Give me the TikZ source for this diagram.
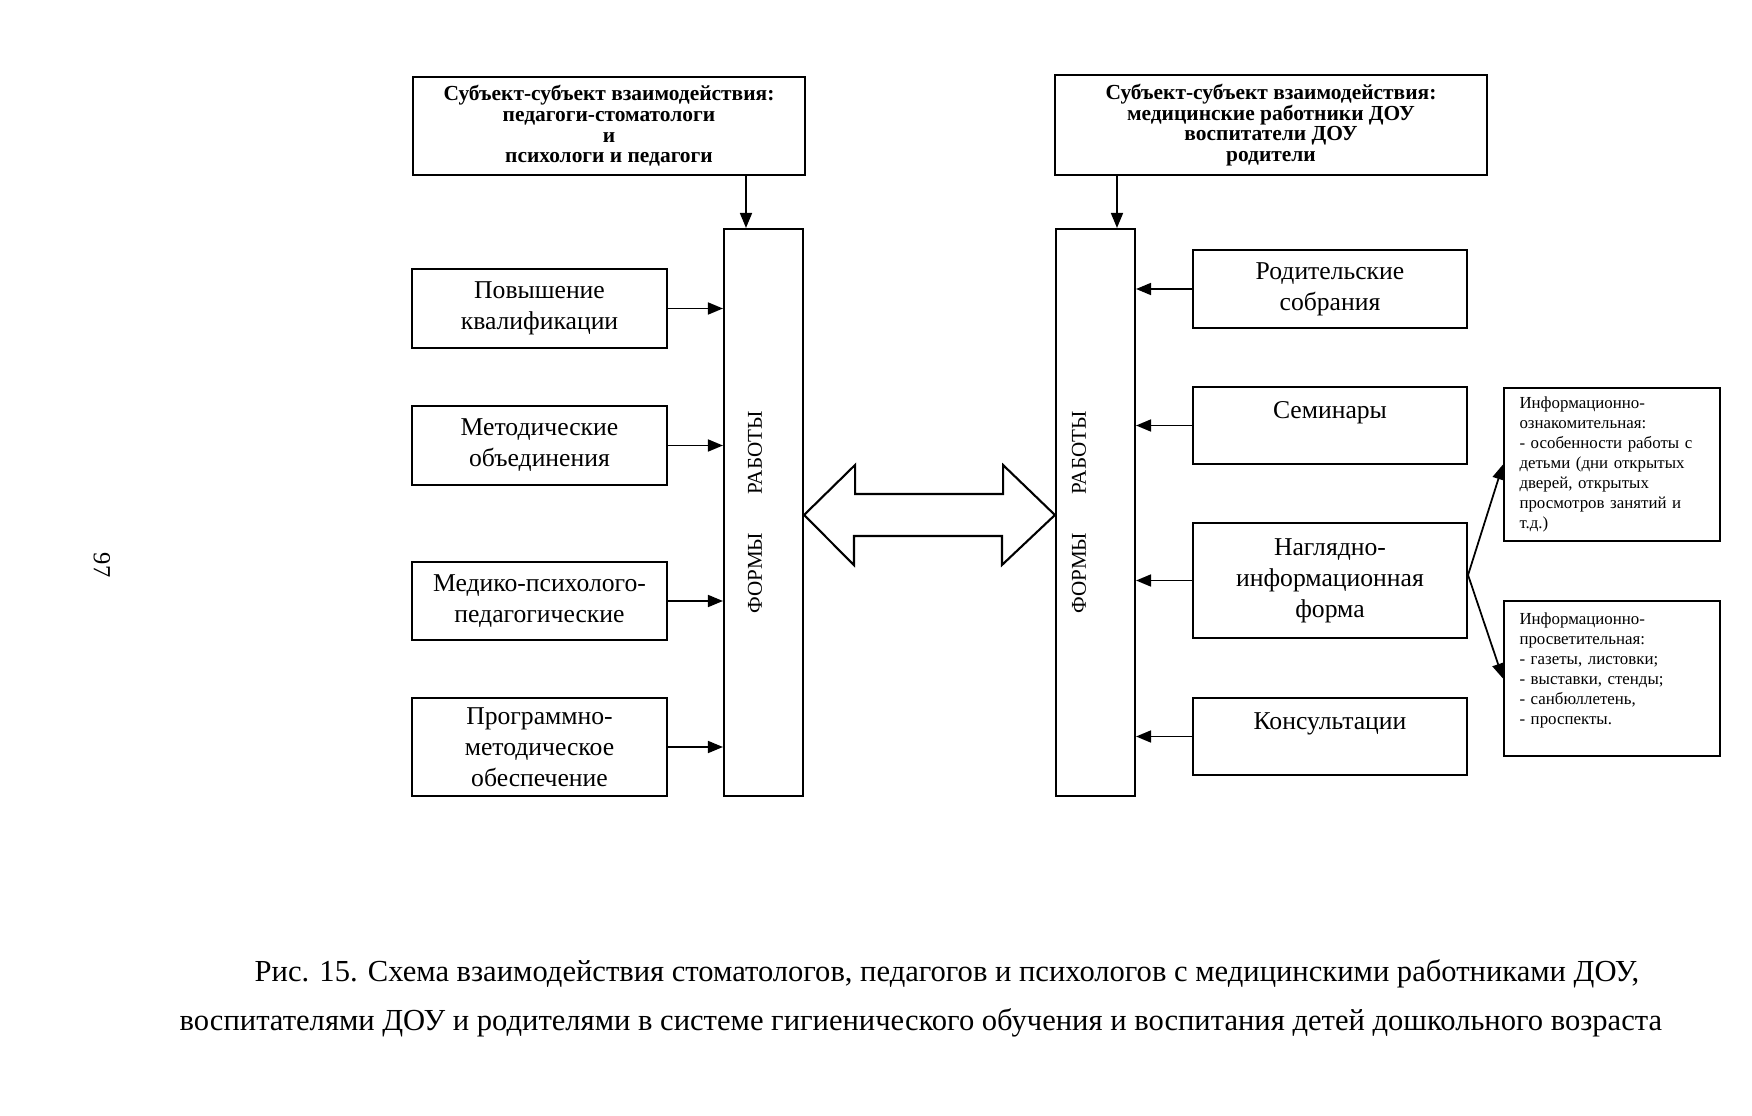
\documentclass[tikz,border=0pt]{standalone}
\usepackage{fontspec}
\setmainfont{Liberation Serif}
\usetikzlibrary{
    arrows.meta,
    calc,
    positioning
}
\newcommand{\boxfont}{\fontsize{7.3}{8.8}\selectfont}
\newcommand{\subjfont}{\fontsize{6.1}{5.9}\selectfont\bfseries}
\newcommand{\infofont}{\fontsize{4.8}{5.66}\selectfont}
\newcommand{\formsfont}{\fontsize{6}{7}\selectfont}
\newcommand{\capfont}{\fontsize{8.7}{11}\selectfont}
\tikzset{
    box/.style={draw, line width=0.6pt, inner sep=0pt, align=center, font=\boxfont},
    subjbox/.style={box, font=\subjfont},
    formsbox/.style={draw, line width=0.6pt, inner sep=0pt,
        minimum width=7.9mm, minimum height=56.7mm},
    leftbox/.style={box, minimum width=25.5mm},
    rightbox/.style={box, minimum width=27.4mm},
    infobox/.style={draw, line width=0.6pt, inner sep=0pt, align=left,
        text width=18.5mm, minimum width=21.6mm, font=\infofont},
    flowarrow/.style={-{Triangle[length=1.5mm,width=1.2mm]}, line width=0.5pt},
    bigarrow/.style={line width=0.6pt, line join=miter},
    formslabel/.style={rotate=90, font=\formsfont},
    caption/.style={anchor=west, inner sep=0pt, font=\capfont}
}

\begin{document}
\begin{tikzpicture}[x=0.1mm, y=-0.1mm]
    \useasboundingbox (0,0) rectangle (1752,1116);

    \node[rotate=-90, font=\fontsize{7}{8}\selectfont] (page) at (102,565) {97};

    % left side
    \node[subjbox, minimum width=39.2mm, minimum height=9.8mm] (subj1) at (609,126)
        {Субъект-субъект взаимодействия:\\педагоги-стоматологи\\и\\психологи и педагоги};
    \node[formsbox] (forms1) at (763.5,512.5) {};
    \node[formslabel] (forms1lbl) at ([xshift=-0.85mm]forms1.center) {ФОРМЫ\hspace{11pt}РАБОТЫ};

    \node[leftbox, minimum height=7.9mm] (qual) at (539.5,308.5) {Повышение\\квалификации};
    \node[leftbox, minimum height=7.9mm] (method) at (539.5,445.5) {Методические\\объединения};
    \node[leftbox, minimum height=7.8mm] (medic) at (539.5,601) {Медико-психолого-\\педагогические};
    \node[leftbox, minimum height=9.8mm] (program) at (539.5,747) {Программно-\\методическое\\обеспечение};

    \draw[flowarrow] ([xshift=-1.75mm]forms1.north |- subj1.south) -- ([xshift=-1.75mm]forms1.north);
    \foreach \n in {qual, method, medic, program}{
        \draw[flowarrow] (\n.east) -- (\n.east -| forms1.west);
    }

    % right side
    \node[subjbox, minimum width=43.2mm, minimum height=10mm] (subj2) at (1271,125)
        {Субъект-субъект взаимодействия:\\медицинские работники ДОУ\\воспитатели ДОУ\\родители};
    \node[formsbox] (forms2) at (1095.5,512.5) {};
    \node[formslabel] (forms2lbl) at ([xshift=-1.65mm]forms2.center) {ФОРМЫ\hspace{11pt}РАБОТЫ};

    \node[rightbox, minimum height=7.8mm] (parents) at (1330,289) {Родительские\\собрания};
    \node[rightbox, minimum height=7.7mm] (seminar) at (1330,425.5) {Семинары\\~};
    \node[rightbox, minimum height=11.5mm] (visual) at (1330,580.5) {Наглядно-\\информационная\\форма};
    \node[rightbox, minimum height=7.7mm] (consult) at (1330,736.5) {Консультации\\~};

    \draw[flowarrow] ([xshift=2.15mm]forms2.north |- subj2.south) -- ([xshift=2.15mm]forms2.north);
    \foreach \n in {parents, seminar, visual, consult}{
        \draw[flowarrow] (\n.west) -- (\n.west -| forms2.east);
    }

    \node[infobox, minimum height=15.3mm] (info1) at (1612,464.5)
        {Информационно-\\ознакомительная:\\- особенности работы с\\детьми (дни открытых\\дверей, открытых\\просмотров занятий и\\т.д.)};
    \node[infobox, minimum height=15.5mm] (info2) at (1612,678.5)
        {Информационно-\\просветительная:\\- газеты, листовки;\\- выставки, стенды;\\- санбюллетень,\\- проспекты.\\~};

    \draw[flowarrow] ([yshift=0.55mm]visual.east) -- (info1.west);
    \draw[flowarrow] ([yshift=0.55mm]visual.east) -- (info2.west);

    % two-way arrow
    \coordinate (dl) at (forms1.east |- 0,515);
    \coordinate (dr) at (forms2.west |- 0,515);
    \draw[bigarrow] (dl) -- ++(51,-50) -- ++(0,29) -- ++(148,0) -- ++(0,-29) -- (dr)
        -- ++(-53,50) -- ++(0,-29) -- ++(-148,0) -- ++(0,29) -- cycle;

    % caption
    \node[caption] (cap1) at (254,974) {Рис. 15. Схема взаимодействия стоматологов, педагогов и психологов с медицинскими работниками ДОУ,};
    \node[caption] (cap2) at (179,1023) {воспитателями ДОУ и родителями в системе гигиенического обучения и воспитания детей дошкольного возраста};
\end{tikzpicture}
\end{document}
